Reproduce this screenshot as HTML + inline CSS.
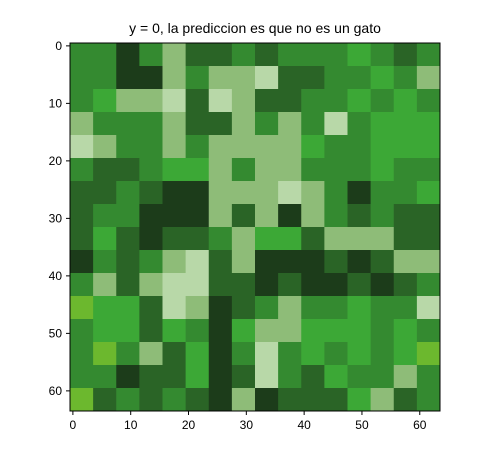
<!DOCTYPE html>
<html><head><meta charset="utf-8"><style>
body{margin:0;background:#fff;width:478px;height:451px;overflow:hidden;font-family:"Liberation Sans","DejaVu Sans",sans-serif}
</style></head><body>
<svg id="chart" width="478" height="451" xmlns="http://www.w3.org/2000/svg">
<text x="255" y="33" font-size="14" text-anchor="middle" fill="#000">y = 0, la prediccion es que no es un gato</text>
<g id="cells"></g>
<rect x="70" y="43" width="370" height="368" fill="none" stroke="#000" stroke-width="1"/>
<g id="xticks"></g>
<g id="yticks"></g>
</svg>
<script>
// 16x16 block grid (each block = 4x4 image pixels), palette codes
const rows = [
"ggDgldd gdgggGgd",
"ggDDlgllwddggGgl",
"gGllwdwlddggGgGg",
"lggglddlglgwgGGG",
"wlgglgllllGggGGG",
"gddgGGlgllgggGgg",
"ddgdDDlllwlgDggG",
"dggDDDldlDlgdgdd",
"dGdDddglGGdllldd",
"DgdglwdlDDDdDdll",
"gldlwwddDdDDdDdgl",
"yGGdwlDdglggGggw",
"gGGdGgDGllGGGgGg",
"gygldGDgwgGgGgGy",
"ggDddGDdwgdGggls",
"ydgdgdDlDdddGldg"
].map(r=>r.replace(/ /g,'').slice(0,16));
const palette = {D:"#1c3c1a",d:"#2a6426",g:"#348a30",G:"#3ca836",l:"#8ebc78",w:"#b8d8a8",y:"#6cb82e",s:"#348a30"};
const xTickValues=[0,10,20,30,40,50,60];
const yTickValues=[0,10,20,30,40,50,60];
const NS="http://www.w3.org/2000/svg";
const X0=70,Y0=43,W=370,H=368,N=64;
const sx=v=>X0+(v+0.5)*W/N, sy=v=>Y0+(v+0.5)*H/N;
const cells=document.getElementById('cells');
rows.forEach((r,i)=>{for(let j=0;j<16;j++){
 const c=document.createElementNS(NS,'rect');
 
 
 const x=sx(j*4-0.5),y=sy(i*4-0.5);
 c.setAttribute('x',x);c.setAttribute('y',y);
 c.setAttribute('width',sx(j*4+3.5)-x+0.5);c.setAttribute('height',sy(i*4+3.5)-y+0.5);
 c.setAttribute('fill',palette[r[j]]||palette.g);cells.appendChild(c);}});
const xt=document.getElementById('xticks');
xTickValues.forEach(v=>{const x=sx(v);
 const l=document.createElementNS(NS,'line');
 
 
 l.setAttribute('x1',x);l.setAttribute('x2',x);l.setAttribute('y1',411);l.setAttribute('y2',415);l.setAttribute('stroke','#000');xt.appendChild(l);
 const t=document.createElementNS(NS,'text');
 
 
 t.setAttribute('x',x);t.setAttribute('y',429);t.setAttribute('font-size','12');t.setAttribute('text-anchor','middle');t.textContent=v;xt.appendChild(t);});
const yt=document.getElementById('yticks');
yTickValues.forEach(v=>{const y=sy(v);
 const l=document.createElementNS(NS,'line');
 
 
 l.setAttribute('x1',66);l.setAttribute('x2',70);l.setAttribute('y1',y);l.setAttribute('y2',y);l.setAttribute('stroke','#000');yt.appendChild(l);
 const t=document.createElementNS(NS,'text');
 
 
 t.setAttribute('x',62);t.setAttribute('y',y+4);t.setAttribute('font-size','12');t.setAttribute('text-anchor','end');t.textContent=v;yt.appendChild(t);});
</script>
</body></html>
